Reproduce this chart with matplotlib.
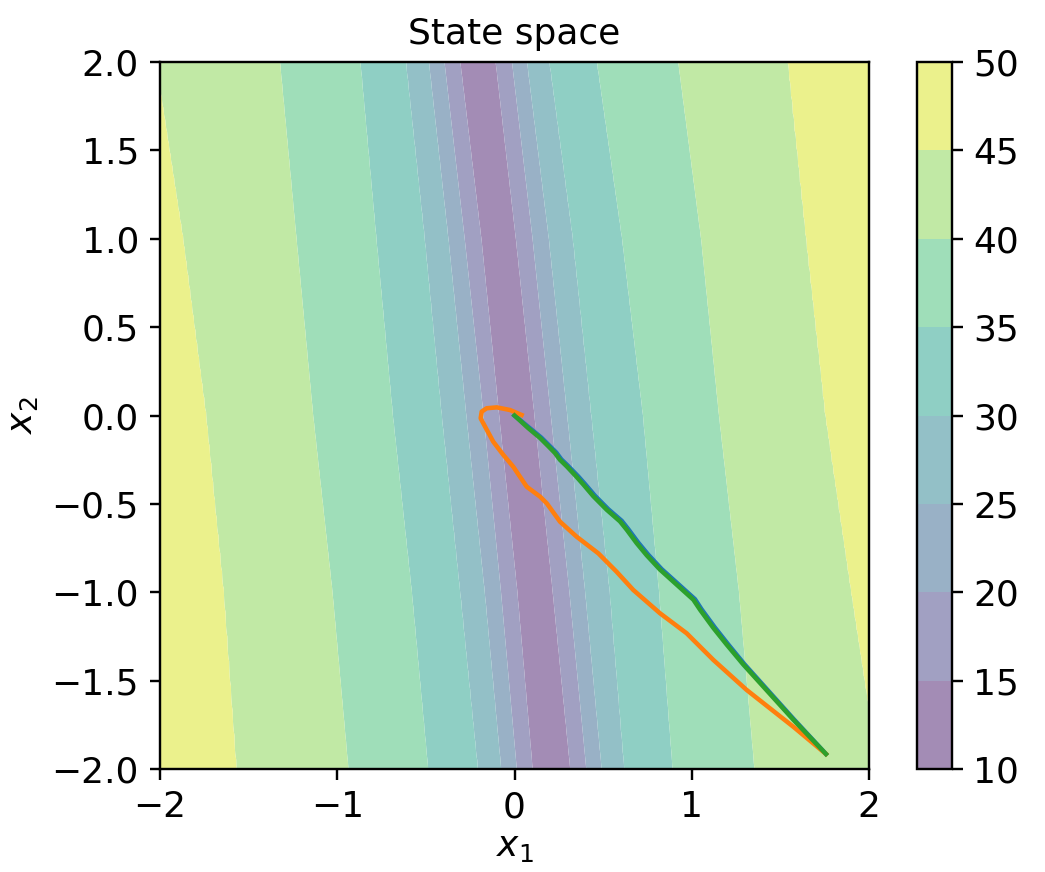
import numpy as np
import matplotlib
matplotlib.use("Agg")
import matplotlib.pyplot as plt

# ---- data ----
levels = [10, 15, 20, 25, 30, 35, 40, 45, 50]
rows_x2 = [2.0, 1.0, 0.0, -1.0, -2.0]
# x1 position of each contour boundary on each row (left / right of the valley)
bound_levels = [15, 20, 25, 30, 35, 40, 45]
left_bounds = [
    [-0.306, -0.187, -0.087, 0.016, 0.102],   # 15
    [-0.395, -0.281, -0.174, -0.076, 0.013],  # 20
    [-0.482, -0.372, -0.271, -0.167, -0.074], # 25
    [-0.611, -0.505, -0.409, -0.305, -0.205], # 30
    [-0.868, -0.778, -0.685, -0.578, -0.486], # 35
    [-1.322, -1.229, -1.135, -1.026, -0.936], # 40
    [-2.020, -1.867, -1.737, -1.638, -1.566], # 45
]
right_bounds = [
    [-0.106, 0.008, 0.113, 0.216, 0.315],     # 15
    [-0.014, 0.102, 0.205, 0.310, 0.405],     # 20
    [0.070, 0.193, 0.297, 0.398, 0.491],      # 25
    [0.196, 0.328, 0.432, 0.536, 0.618],      # 30
    [0.464, 0.606, 0.724, 0.815, 0.891],      # 35
    [0.923, 1.052, 1.153, 1.266, 1.353],      # 40
    [1.540, 1.643, 1.752, 1.898, 2.050],      # 45
]
valley_value = 11.0
edge_value = 49.0
fill_alpha = 0.5

# trajectories
traj_blue_x1 = [0.0, 0.082, 0.151, 0.198, 0.236, 0.264, 0.302, 0.360, 0.398, 0.454, 0.529, 0.605, 0.642,
                0.698, 0.755, 0.830, 0.924, 1.018, 1.055, 1.130, 1.204, 1.297, 1.390, 1.577, 1.757]
traj_blue_x2 = [0.0, -0.068, -0.125, -0.172, -0.210, -0.248, -0.285, -0.345, -0.388, -0.454, -0.530, -0.596,
                -0.643, -0.719, -0.788, -0.869, -0.954, -1.039, -1.096, -1.199, -1.293, -1.407, -1.511, -1.720, -1.915]
traj_orange_x1 = [1.757, 1.573, 1.310, 1.122, 0.971, 0.821, 0.670, 0.576, 0.473, 0.351, 0.257, 0.182, 0.144,
                  0.069, -0.007, -0.063, -0.120, -0.166, -0.191, -0.185, -0.157, -0.100, -0.025, 0.040]
traj_orange_x2 = [-1.915, -1.761, -1.553, -1.383, -1.232, -1.119, -0.987, -0.884, -0.780, -0.686, -0.601, -0.497, -0.459,
                  -0.403, -0.290, -0.223, -0.148, -0.063, -0.016, 0.022, 0.041, 0.046, 0.031, 0.003]
traj_green_x1 = [0.0, 0.076, 0.144, 0.191, 0.228, 0.256, 0.294, 0.351, 0.389, 0.445, 0.520, 0.595, 0.633,
                 0.689, 0.746, 0.821, 0.915, 1.009, 1.047, 1.122, 1.197, 1.291, 1.385, 1.573, 1.757]
traj_green_x2 = [0.0, -0.070, -0.127, -0.174, -0.212, -0.250, -0.287, -0.348, -0.391, -0.457, -0.533, -0.599,
                 -0.646, -0.722, -0.791, -0.872, -0.957, -1.042, -1.099, -1.202, -1.296, -1.409, -1.513, -1.721, -1.915]

# ---- build the field by interpolating the read boundaries ----
n = 401
gx1 = np.linspace(-2, 2, n)
gx2 = np.linspace(-2, 2, n)
X1, X2 = np.meshgrid(gx1, gx2)
Z = np.zeros_like(X1)
rx2 = np.array(rows_x2)[::-1]
L = np.array(left_bounds)[:, ::-1]
R = np.array(right_bounds)[:, ::-1]
for j, y in enumerate(gx2):
    lb = np.array([np.interp(y, rx2, L[k]) for k in range(len(bound_levels))])
    rb = np.array([np.interp(y, rx2, R[k]) for k in range(len(bound_levels))])
    centre = 0.5 * (lb[0] + rb[0])
    xs = np.concatenate([[-3.5], lb[::-1], [centre], rb, [3.5]])
    vs = np.concatenate([[edge_value], np.array(bound_levels)[::-1], [valley_value], bound_levels, [edge_value]])
    Z[j, :] = np.interp(gx1, xs, vs)

# viridis at layer midpoints, pre-blended with white (alpha 0.5 look, no seams)
cmap = plt.get_cmap("viridis")
lv = np.array(levels, dtype=float)
mids = 0.5 * (lv[:-1] + lv[1:])
fill_colors = []
for m in mids:
    c = np.array(cmap((m - lv[0]) / (lv[-1] - lv[0]))[:3])
    fill_colors.append(tuple(fill_alpha * c + (1 - fill_alpha) * 1.0))

# ---- figure ----
dpi = 216
fig = plt.figure(figsize=(1045 / dpi, 872 / dpi), dpi=dpi)
ax = fig.add_axes([160 / 1045, (872 - 769) / 872, 709 / 1045, 707 / 872])
cax = fig.add_axes([917 / 1045, (872 - 769) / 872, 35 / 1045, 707 / 872])

cs = ax.contourf(X1, X2, Z, levels=levels, colors=fill_colors, antialiased=True)
ax.plot(traj_blue_x1, traj_blue_x2, color="C0", lw=1.5)
ax.plot(traj_orange_x1, traj_orange_x2, color="C1", lw=1.5)
ax.plot(traj_green_x1, traj_green_x2, color="C2", lw=1.5)

ax.set_xlim(-2, 2)
ax.set_ylim(-2, 2)
ax.set_xticks([-2, -1, 0, 1, 2])
ax.set_yticks([-2.0, -1.5, -1.0, -0.5, 0.0, 0.5, 1.0, 1.5, 2.0])
ax.set_xlabel("$x_1$", fontsize=12, labelpad=2)
ax.set_ylabel("$x_2$", fontsize=12)
ax.set_title("State space", fontsize=12)
ax.tick_params(labelsize=12)

cb = fig.colorbar(cs, cax=cax)
cb.set_ticks(levels)
cb.ax.tick_params(labelsize=12)

fig.savefig("out.png", dpi=dpi)
